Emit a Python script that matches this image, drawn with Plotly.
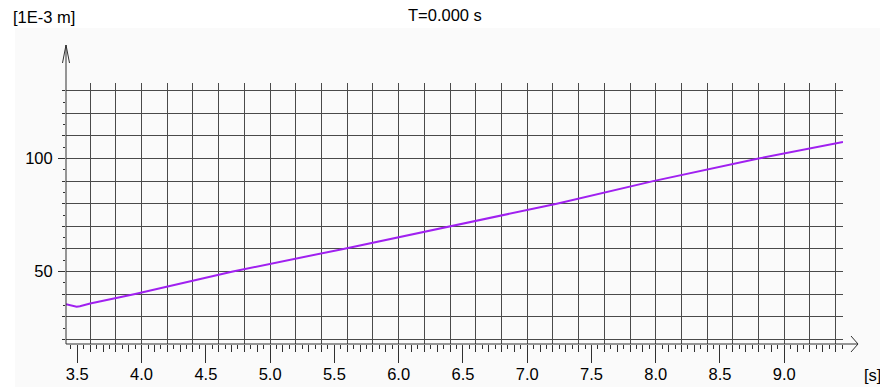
import plotly.graph_objects as go

# ---- data ----
time_s = [3.412, 3.44, 3.47, 3.495, 3.52, 3.60, 3.95, 4.71, 5.57, 6.40, 7.23, 7.98, 8.80, 9.457]
disp_mm = [35.5, 35.2, 34.7, 34.4, 34.6, 35.8, 40.0, 50.0, 60.0, 70.0, 80.0, 90.0, 100.0, 107.3]
y_unit_label = "[1E-3 m]"
x_unit_label = "[s]"
title_text = "T=0.000 s"
y_labels = [50, 100]

# ---- layout geometry ----
W, H = 880, 387
L, R, T, B = 66, 843, 83, 344          # plot area in pixels
XR = [3.412, 9.457]
YR = [17.92, 133.41]
BG = "#fafafa"
GRID = "#4a4a4a"
AX = "#303030"
FONT = "Arial, Liberation Sans, sans-serif"


def px(xp):
    return (xp - L) / (R - L)


def py(yp):
    return (B - yp) / (B - T)


fig = go.Figure()
fig.add_trace(go.Scatter(x=time_s, y=disp_mm, mode="lines",
                         line=dict(color="#a020f0", width=2),
                         hoverinfo="skip", showlegend=False))
# helper traces so that overlay axes are rendered
for xa, ya in (("x2", "y"), ("x3", "y"), ("x", "y2")):
    fig.add_trace(go.Scatter(x=time_s, y=disp_mm, xaxis=xa, yaxis=ya, mode="lines",
                             line=dict(width=0), opacity=0, hoverinfo="skip",
                             showlegend=False))

common_x = dict(range=XR, zeroline=False, showline=False, fixedrange=True, automargin=False)
common_y = dict(range=YR, zeroline=False, showline=False, fixedrange=True, automargin=False)

fig.update_layout(
    width=W, height=H,
    margin=dict(l=L, r=W - R, t=T, b=H - B, pad=0, autoexpand=False),
    paper_bgcolor="white", plot_bgcolor=BG,
    font=dict(family=FONT, size=16.5, color="#000"),
    xaxis=dict(**common_x, anchor="y", tickmode="linear", tick0=3.5, dtick=0.5,
               ticks="outside", ticklen=18, tickcolor=AX, tickwidth=1,
               tickformat=".1f", showgrid=False, ticklabelstandoff=-3,
               minor=dict(ticks="outside", tick0=3.5, dtick=0.05, ticklen=4,
                          tickcolor=AX, showgrid=False)),
    xaxis2=dict(**common_x, overlaying="x", anchor="y", tickmode="linear", tick0=3.5,
                dtick=0.1, ticks="outside", ticklen=7, tickcolor=AX,
                showticklabels=False, showgrid=False),
    xaxis3=dict(**common_x, overlaying="x", anchor="y", tickmode="linear", tick0=3.0,
                dtick=0.2, ticks="", showticklabels=False, showgrid=True,
                gridcolor=GRID, gridwidth=1),
    yaxis=dict(**common_y, anchor="x", tickmode="linear", tick0=0, dtick=10,
               ticks="outside", ticklen=3, tickcolor=AX, showticklabels=False,
               showgrid=True, gridcolor=GRID, gridwidth=1,
               minor=dict(ticks="outside", tick0=0, dtick=5, ticklen=2,
                          tickcolor=AX, showgrid=False)),
    yaxis2=dict(**common_y, overlaying="y", anchor="x", side="left",
                tickmode="array", tickvals=y_labels,
                ticktext=[str(v) for v in y_labels],
                ticks="outside", ticklen=7, tickcolor=AX, showgrid=False,
                ticklabelstandoff=2),
)

shapes = [
    # light background panel
    dict(type="rect", xref="paper", yref="paper", layer="below",
         x0=px(15), x1=px(W), y0=py(28), y1=py(H), fillcolor=BG,
         line=dict(width=0)),
    # hide vertical grid between grid bottom and axis line
    dict(type="rect", xref="paper", yref="y", layer="between",
         x0=0, x1=1, y0=YR[0] + 0.05, y1=19.6, fillcolor=BG, line=dict(width=0)),
    # x axis line with arrow
    dict(type="line", xref="paper", yref="paper", x0=0, x1=px(858), y0=0, y1=0,
         line=dict(color=AX, width=1)),
    dict(type="path", xref="paper", yref="paper",
         path=f"M {px(851)} {py(336)} L {px(858)} {py(344)} L {px(851)} {py(352)}",
         line=dict(color=AX, width=1)),
    # y axis line with arrow
    dict(type="line", xref="paper", yref="paper", x0=0, x1=0, y0=0, y1=py(45),
         line=dict(color=AX, width=1)),
    dict(type="path", xref="paper", yref="paper",
         path=f"M {px(62.5)} {py(63)} L {px(66)} {py(45)} L {px(69.5)} {py(63)}",
         line=dict(color=AX, width=1)),
]
fig.update_layout(shapes=shapes)

fig.add_annotation(text=y_unit_label, xref="paper", yref="paper", x=px(11), y=py(17),
                   xanchor="left", yanchor="middle", showarrow=False,
                   font=dict(size=16.5))
fig.add_annotation(text=title_text, xref="paper", yref="paper", x=px(444.5), y=py(15),
                   xanchor="center", yanchor="middle", showarrow=False,
                   font=dict(size=16.5))
fig.add_annotation(text=x_unit_label, xref="paper", yref="paper", x=px(872), y=py(375),
                   xanchor="center", yanchor="middle", showarrow=False,
                   font=dict(size=16.5))

fig.write_html("out.html")
